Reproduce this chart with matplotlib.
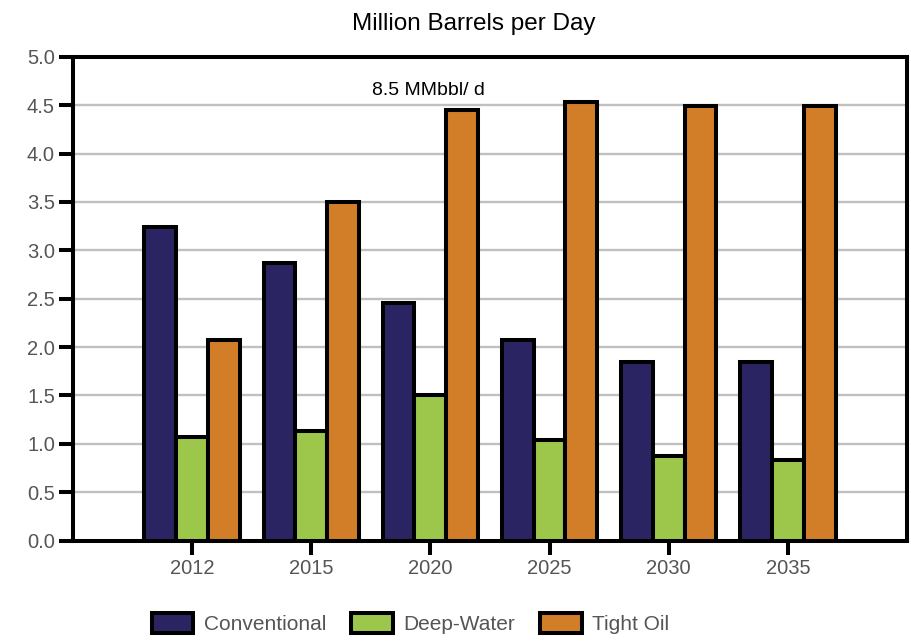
import matplotlib
matplotlib.use("Agg")
import matplotlib.pyplot as plt
import numpy as np

years = ["2012", "2015", "2020", "2025", "2030", "2035"]
conventional = [3.24, 2.87, 2.46, 2.07, 1.85, 1.85]
deep_water = [1.07, 1.13, 1.50, 1.04, 0.87, 0.83]
tight_oil = [2.07, 3.50, 4.45, 4.53, 4.49, 4.49]
series_names = ["Conventional", "Deep-Water", "Tight Oil"]
colors = ["#2A2462", "#9DC74B", "#D27D28"]
y_ticks = [0.0, 0.5, 1.0, 1.5, 2.0, 2.5, 3.0, 3.5, 4.0, 4.5, 5.0]

plt.rcParams['font.family'] = ['Liberation Sans', 'DejaVu Sans']

fig = plt.figure(figsize=(9.12, 6.41), dpi=100)
ax = fig.add_axes([0.080, 0.1565, 0.9145, 0.755])

x = np.arange(1, len(years) + 1)
w = 0.267
for i, (vals, name, c) in enumerate(zip([conventional, deep_water, tight_oil], series_names, colors)):
    ax.bar(x + (i - 1) * w, vals, width=w, color=c, edgecolor='black', linewidth=2.9,
           label=name, zorder=3)

ax.set_xlim(0, 7)
ax.set_ylim(0, 5.0)
ax.set_yticks(y_ticks)
ax.set_yticklabels([f"{v:.1f}" for v in y_ticks], fontsize=14.5, color='#555555')
ax.set_xticks(x)
ax.set_xticklabels(years, fontsize=14.5, color='#555555')
ax.yaxis.grid(True, color='#C0C0C0', linewidth=1.7, zorder=0)
ax.set_axisbelow(True)
for s in ax.spines.values():
    s.set_linewidth(2.9)
    s.set_color('black')
ax.tick_params(axis='both', length=10, width=2.9, color='black', pad=3)

ax.text(3.46, 4.56, "8.5 MMbbl/ d", fontsize=14, ha='right', va='bottom', color='black')

fig.text(0.52, 0.962, "Million Barrels per Day", fontsize=17.5, ha='center', va='center')

leg = fig.legend(loc='center', bbox_to_anchor=(0.45, 0.028), ncol=3, frameon=False,
                 fontsize=15, handlelength=2.0, handleheight=1.1, columnspacing=1.2,
                 handletextpad=0.5)
for t in leg.get_texts():
    t.set_color('#555555')

fig.savefig("out.png", dpi=100)
